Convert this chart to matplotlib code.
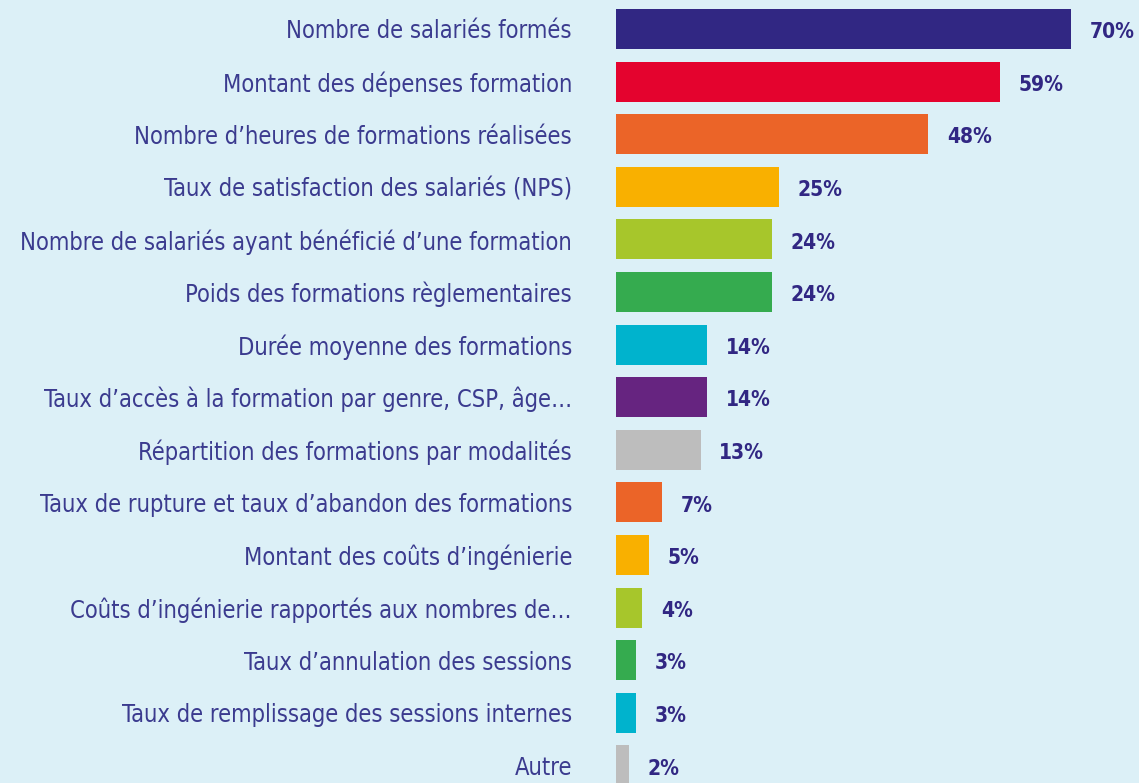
import matplotlib.pyplot as plt
import matplotlib.font_manager as fm

labels = [
    "Nombre de salariés formés",
    "Montant des dépenses formation",
    "Nombre d’heures de formations réalisées",
    "Taux de satisfaction des salariés (NPS)",
    "Nombre de salariés ayant bénéficié d’une formation",
    "Poids des formations règlementaires",
    "Durée moyenne des formations",
    "Taux d’accès à la formation par genre, CSP, âge…",
    "Répartition des formations par modalités",
    "Taux de rupture et taux d’abandon des formations",
    "Montant des coûts d’ingénierie",
    "Coûts d’ingénierie rapportés aux nombres de…",
    "Taux d’annulation des sessions",
    "Taux de remplissage des sessions internes",
    "Autre",
]
values = [70, 59, 48, 25, 24, 24, 14, 14, 13, 7, 5, 4, 3, 3, 2]
colors = ["#312783", "#e4032e", "#eb6428", "#f9b000", "#a7c62b", "#35ab4f",
          "#00b3cd", "#662480", "#bdbdbd", "#eb6428", "#f9b000", "#a7c62b",
          "#35ab4f", "#00b3cd", "#bdbdbd"]

# look for a narrow / condensed face, fall back to DejaVu Sans
narrow_fonts = [f for f in fm.fontManager.ttflist
                if "Narrow" in f.name or "Condensed" in f.name or "ondensed" in str(f.stretch)]
if narrow_fonts:
    fam = narrow_fonts[0].name
    stretch = narrow_fonts[0].stretch
else:
    fam, stretch = "DejaVu Sans", "normal"
font_label = fm.FontProperties(family=fam, stretch=stretch, size=17)
font_value = fm.FontProperties(family=fam, stretch=stretch, weight="bold", size=15)

bg = "#dcf0f7"
navy = "#312783"

fig = plt.figure(figsize=(11.39, 7.83), dpi=100, facecolor=bg)
ax = fig.add_axes([616 / 1139, 0, 1 - 616 / 1139, 1])
ax.set_facecolor(bg)

y = list(range(len(values)))
ax.barh(y, values, height=0.76, color=colors)
ax.set_xlim(0, 523 / 6.5)
ax.set_ylim(783 / 52.6 - 29 / 52.6, -29 / 52.6)
ax.set_xticks([])
for s in ax.spines.values():
    s.set_visible(False)

# fit label size so the longest label spans about 552 px
renderer = fig.canvas.get_renderer()
t = fig.text(0, 0, max(labels, key=len), fontproperties=font_label)
w = t.get_window_extent(renderer).width
t.remove()
font_label.set_size(17 * 552 / w)

ax.set_yticks(y)
ax.set_yticklabels(labels, fontproperties=font_label, color="#3b3b8f")
ax.tick_params(axis="y", length=0, pad=44 * 0.72)

for yi, v in zip(y, values):
    ax.text(v + 2.9, yi + 0.06, f"{v}%", va="center", ha="left",
            fontproperties=font_value, color=navy)

fig.savefig("out.png", dpi=100, facecolor=bg)
